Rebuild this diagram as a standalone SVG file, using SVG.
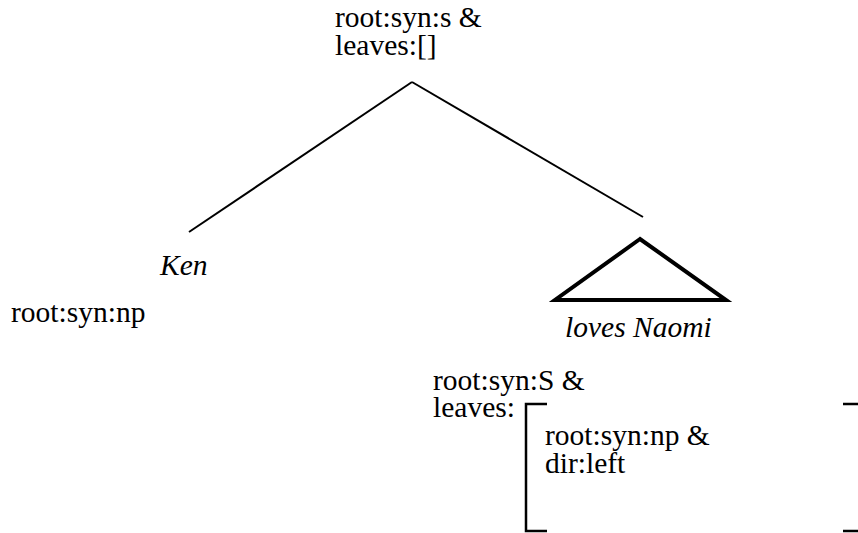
<svg xmlns="http://www.w3.org/2000/svg" width="858" height="533" viewBox="0 0 858 533">
  <style>
    text { font-family: "Liberation Serif", "Times New Roman", serif; font-size: 29.5px; fill: #000; }
    .it { font-style: italic; }
    .edge { stroke: #000; stroke-width: 2; fill: none; }
    .tri { stroke: #000; stroke-width: 4; fill: none; stroke-linejoin: miter; }
    .brk { stroke: #000; stroke-width: 2.5; fill: none; }
  </style>
  <rect width="858" height="533" fill="#fff"/>

  <!-- branches from the root -->
  <g id="connectors">
    <line class="edge" x1="412" y1="82" x2="189" y2="232"/>
    <line class="edge" x1="412" y1="82" x2="643" y2="217"/>
  </g>

  <!-- root node -->
  <g id="root">
    <text x="335" y="27">root:syn:s &amp;</text>
    <text x="335" y="55">leaves:[]</text>
  </g>

  <!-- left daughter -->
  <g id="ken">
    <text class="it" x="160" y="275">Ken</text>
    <text x="11" y="322">root:syn:np</text>
  </g>

  <!-- right daughter, collapsed subtree -->
  <g id="loves-naomi">
    <polygon class="tri" points="640,239 555,300 726,300"/>
    <text class="it" x="565" y="337">loves Naomi</text>
  </g>

  <!-- feature structure of the right daughter -->
  <g id="loves-naomi-features">
    <text x="433" y="390">root:syn:S &amp;</text>
    <text x="433" y="417">leaves:</text>
    <path class="brk" d="M547,404 H526 V531 H547"/>
    <path class="brk" d="M843,404 H858 M843,531 H858"/>
    <text x="545" y="445">root:syn:np &amp;</text>
    <text x="545" y="473">dir:left</text>
  </g>
</svg>
